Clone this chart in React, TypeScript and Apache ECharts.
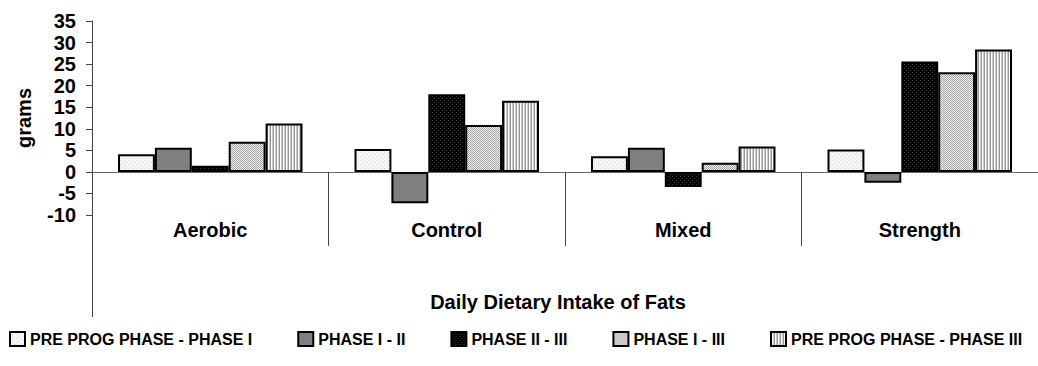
import React, { useEffect, useRef } from "react";
import * as echarts from "echarts";

const categories = ["Aerobic", "Control", "Mixed", "Strength"];
const seriesNames = [
  "PRE PROG PHASE - PHASE I",
  "PHASE I - II",
  "PHASE II - III",
  "PHASE I - III",
  "PRE PROG PHASE - PHASE III",
];
const prePhaseI = [4.1, 5.3, 3.6, 5.2];
const phaseI_II = [5.6, -7.3, 5.6, -2.5];
const phaseII_III = [1.4, 18.0, -3.5, 25.6];
const phaseI_III = [7.0, 10.9, 2.1, 23.1];
const prePhaseIII = [11.2, 16.5, 5.9, 28.4];
const yTicks = { min: -10, max: 35, interval: 5 };
const xTitle = "Daily Dietary Intake of Fats";
const yTitle = "grams";

function makePattern(w: number, h: number, draw: (ctx: CanvasRenderingContext2D) => void) {
  const c = document.createElement("canvas");
  c.width = w;
  c.height = h;
  const ctx = c.getContext("2d")!;
  draw(ctx);
  return { image: c, repeat: "repeat" } as any;
}

function px(ctx: CanvasRenderingContext2D, color: string, pts: number[][]) {
  ctx.fillStyle = color;
  pts.forEach(([x, y]) => ctx.fillRect(x, y, 1, 1));
}

export default function App() {
  const ref = useRef<HTMLDivElement>(null);
  useEffect(() => {
    if (!ref.current) return;
    const pat1 = makePattern(4, 4, (ctx) => {
      ctx.fillStyle = "#f6f6f6";
      ctx.fillRect(0, 0, 4, 4);
      px(ctx, "#d2d2d2", [[0, 0], [2, 2]]);
    });
    const pat2 = makePattern(4, 4, (ctx) => {
      ctx.fillStyle = "#7d7d7d";
      ctx.fillRect(0, 0, 4, 4);
      px(ctx, "#8e8e8e", [[0, 0], [2, 2]]);
    });
    const pat3 = makePattern(4, 4, (ctx) => {
      ctx.fillStyle = "#050505";
      ctx.fillRect(0, 0, 4, 4);
      px(ctx, "#3a3a3a", [[0, 0], [2, 2]]);
    });
    const pat4 = makePattern(2, 2, (ctx) => {
      ctx.fillStyle = "#f2f2f2";
      ctx.fillRect(0, 0, 2, 2);
      px(ctx, "#a2a2a2", [[0, 0], [1, 1]]);
    });
    const pat5 = makePattern(3, 3, (ctx) => {
      ctx.fillStyle = "#999999";
      ctx.fillRect(0, 0, 1, 3);
      ctx.fillStyle = "#ffffff";
      ctx.fillRect(1, 0, 1, 3);
      ctx.fillStyle = "#cccccc";
      ctx.fillRect(2, 0, 1, 3);
    });
    const patterns = [pat1, pat2, pat3, pat4, pat5];
    const values = [prePhaseI, phaseI_II, phaseII_III, phaseI_III, prePhaseIII];

    const chart = echarts.init(ref.current, undefined, { renderer: "svg" });
    const font = "'Liberation Sans', Arial, sans-serif";
    chart.setOption({
      animation: false,
      textStyle: { fontFamily: font },
      grid: { left: 92, right: 0, top: 21, bottom: 151, containLabel: false },
      legend: {
        left: 9,
        top: 331,
        padding: 0,
        itemWidth: 15,
        itemHeight: 14,
        itemGap: 45,
        icon: "rect",
        data: seriesNames,
        itemStyle: { borderColor: "#000", borderWidth: 2 },
        textStyle: {
          fontFamily: font,
          fontSize: 16,
          fontWeight: "bold",
          color: "#000",
          padding: [16, 0, 0, 0],
        },
      },
      xAxis: [
        {
          type: "category",
          data: categories,
          position: "bottom",
          axisLine: { onZero: true, lineStyle: { color: "#6a6a6a", width: 1 } },
          axisTick: { show: true, length: 74, lineStyle: { color: "#444", width: 1 } },
          axisLabel: { show: false },
          splitLine: { show: false },
        },
        {
          type: "category",
          data: categories,
          position: "bottom",
          axisLine: { show: false, onZero: false },
          axisTick: { show: false },
          axisLabel: {
            margin: 5,
            fontFamily: font,
            fontSize: 20,
            fontWeight: "bold",
            color: "#000",
          },
          splitLine: { show: false },
        },
      ],
      yAxis: {
        type: "value",
        min: yTicks.min,
        max: yTicks.max,
        interval: yTicks.interval,
        name: yTitle,
        nameLocation: "middle",
        nameGap: 58,
        nameTextStyle: { fontFamily: font, fontSize: 20, fontWeight: "bold", color: "#000" },
        axisLine: { show: true, lineStyle: { color: "#444", width: 1 } },
        axisTick: { show: true, length: 6, lineStyle: { color: "#444" } },
        axisLabel: { margin: 16, fontFamily: font, fontSize: 20, fontWeight: "bold", color: "#000" },
        splitLine: { show: false },
      },
      graphic: [
        {
          type: "line",
          shape: { x1: 92.5, y1: 215, x2: 92.5, y2: 317 },
          style: { stroke: "#444", lineWidth: 1 },
        },
        {
          type: "text",
          x: 558,
          y: 302,
          style: {
            text: xTitle,
            align: "center",
            verticalAlign: "middle",
            fontFamily: font,
            fontSize: 20,
            fontWeight: "bold",
            fill: "#000",
          },
        },
      ],
      series: values.map((v, i) => ({
        name: seriesNames[i],
        type: "bar",
        xAxisIndex: 0,
        data: v,
        barGap: "0%",
        barCategoryGap: "22%",
        itemStyle: { color: patterns[i], borderColor: "#000", borderWidth: 2 },
      })),
    });
    return () => chart.dispose();
  }, []);
  return (
    <div
      ref={ref}
      style={{ position: "absolute", left: 0, top: 0, width: 1038, height: 366 }}
    />
  );
}
